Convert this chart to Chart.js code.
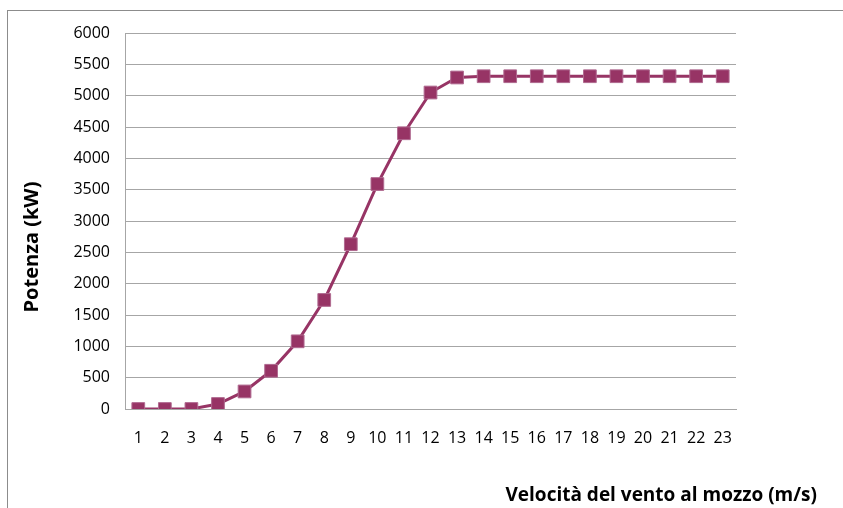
<!DOCTYPE html>
<html>
<head>
<meta charset="utf-8">
<script src="https://cdn.jsdelivr.net/npm/chart.js@4"></script>
<style>
  html, body { margin: 0; padding: 0; background: #fff; }
  #wrap { position: relative; width: 843px; height: 508px; }
  #frame { position: absolute; left: 7px; top: 10px; right: -2px; bottom: -2px; border-left: 1px solid #8c8c8c; border-top: 1px solid #8c8c8c; }
  canvas { position: absolute; left: 0; top: 0; }
</style>
</head>
<body>
<div id="wrap">
  <div id="frame"></div>
  <canvas id="chart" width="843" height="508"></canvas>
</div>
<script>
// wind speed at hub (m/s)
const speeds = ["1","2","3","4","5","6","7","8","9","10","11","12","13","14","15","16","17","18","19","20","21","22","23"];
// power (kW)
const power = [0, 0, 0, 80, 280, 610, 1080, 1740, 2630, 3590, 4400, 5050, 5290, 5310, 5310, 5310, 5310, 5310, 5310, 5310, 5310, 5310, 5310];

const yTitle = "Potenza (kW)";
const xTitle = "Velocità del vento al mozzo (m/s)";

const lineColor = "#973465";
const gridColor = "#a6a6a6";
const tickFont = { family: "'Open Sans', sans-serif", size: 16 };

// axis titles sit off-centre in the original, so draw them by hand
const axisTitles = {
  id: "axisTitles",
  afterDraw(c) {
    const ctx = c.ctx;
    ctx.save();
    ctx.fillStyle = "#000";
    ctx.textBaseline = "middle";
    ctx.font = "bold 19px 'Open Sans', sans-serif";
    ctx.textAlign = "right";
    ctx.fillText(xTitle, 817, 496);
    ctx.font = "bold 20px 'Open Sans', sans-serif";
    ctx.translate(32, 247);
    ctx.rotate(-Math.PI / 2);
    ctx.textAlign = "center";
    ctx.fillText(yTitle, 0, 0);
    ctx.restore();
  }
};

new Chart(document.getElementById("chart"), {
  type: "line",
  data: {
    labels: speeds,
    datasets: [{
      data: power,
      borderColor: lineColor,
      backgroundColor: lineColor,
      borderWidth: 3,
      pointStyle: "rect",
      pointRadius: 9,
      pointBorderWidth: 1,
      pointBorderColor: "#b06a90",
      tension: 0,
      fill: false
    }]
  },
  options: {
    responsive: false,
    animation: false,
    layout: { padding: { left: 0, right: 107, top: 33, bottom: 0 } },
    plugins: { legend: { display: false }, tooltip: { enabled: false } },
    scales: {
      x: {
        offset: true,
        grid: { display: false, drawTicks: false },
        border: { display: true, color: gridColor, width: 1 },
        ticks: { color: "#000", font: tickFont, padding: 20, maxRotation: 0, autoSkip: false },
        afterFit: s => { s.height = 99; }
      },
      y: {
        min: 0,
        max: 6000,
        grid: { color: gridColor, drawTicks: false },
        border: { display: true, color: gridColor, width: 1 },
        ticks: { stepSize: 500, color: "#000", font: tickFont, padding: 15, callback: v => String(v) },
        afterFit: s => { s.width = 125; }
      }
    }
  },
  plugins: [axisTitles]
});
</script>
</body>
</html>
